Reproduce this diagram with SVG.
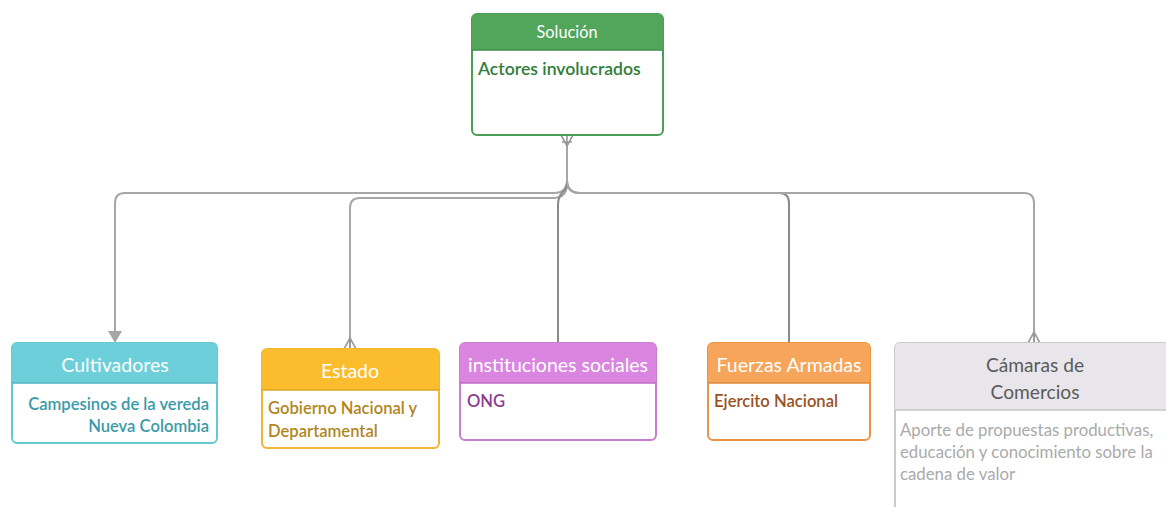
<svg xmlns="http://www.w3.org/2000/svg" width="1166" height="507" viewBox="0 0 1166 507">
<style>
text{font-family:Lato,"Noto Sans","Liberation Sans",sans-serif}
.hd{font-size:19.5px;fill:#fff;text-anchor:middle}
.bd{font-size:16.6px;font-weight:600}
.conn{fill:none;stroke:#a6a6a6;stroke-width:2}
.dk{stroke:#8a8a8a}
.cf{fill:none;stroke:#9a9a9a;stroke-width:1.6}
</style>
<rect width="1166" height="507" fill="#fff"/>
<g id="connectors">
<path class="conn" d="M567,145 V180 Q567,193 554,193 H125 Q115,193 115,203 V332"/>
<path d="M108,331 L122,331 L115,343 Z" fill="#a6a6a6"/>
<path class="conn" d="M567,145 V184 Q567,198 553,198 H360 Q350,198 350,208 V349"/>
<path class="conn dk" d="M567,145 V182 Q567,189 562,193 Q558,197 558,206 V343"/>
<path class="conn dk" d="M567,145 V180 Q567,193 580,193 H779 Q789,193 789,203 V343"/>
<path class="conn" d="M567,145 V180 Q567,193 580,193 H1024 Q1034,193 1034,203 V343"/>
<path class="cf" d="M561,135 L567,146 L573,135 M567,135 V146 M562,142 H572"/>
<path class="cf" d="M344,349 L350,338 L356,349 M350,338 V349"/>
<path class="cf" d="M1028,343 L1034,332 L1040,343 M1034,332 V343"/>
</g>
<g id="solucion">
<rect x="472" y="14" width="191" height="121" rx="5" fill="#fff" stroke="#4a9e55" stroke-width="2"/>
<path d="M472,50 V19 Q472,14 477,14 H658 Q663,14 663,19 V50 Z" fill="#52a65c"/>
<line x1="472" y1="50" x2="663" y2="50" stroke="#3f8e49" stroke-width="1.5"/>
<text class="hd" x="567" y="38" style="font-size:16.3px">Solución</text>
<text class="bd" x="478" y="75" fill="#2f7d3b" style="font-size:17.6px">Actores involucrados</text>
</g>
<g id="cultivadores">
<rect x="12" y="343" width="205" height="100" rx="5" fill="#fff" stroke="#66c8d3" stroke-width="2"/>
<path d="M12,383 V348 Q12,343 17,343 H212 Q217,343 217,348 V383 Z" fill="#6dcfd9"/>
<line x1="12" y1="383" x2="217" y2="383" stroke="#52b5c0" stroke-width="1.5"/>
<text class="hd" x="115" y="372">Cultivadores</text>
<text class="bd" x="209" y="410" fill="#3a9aa8" text-anchor="end">Campesinos de la vereda</text>
<text class="bd" x="209" y="432" fill="#3a9aa8" text-anchor="end">Nueva Colombia</text>
</g>
<g id="estado">
<rect x="262" y="349" width="177" height="99" rx="5" fill="#fff" stroke="#f2b535" stroke-width="2"/>
<path d="M262,390 V354 Q262,349 267,349 H434 Q439,349 439,354 V390 Z" fill="#fbbd2e"/>
<line x1="262" y1="390" x2="439" y2="390" stroke="#e0a420" stroke-width="1.5"/>
<text class="hd" x="350" y="378">Estado</text>
<text class="bd" x="268" y="414" fill="#b0861c">Gobierno Nacional y</text>
<text class="bd" x="268" y="437" fill="#b0861c">Departamental</text>
</g>
<g id="instituciones">
<rect x="460" y="343" width="196" height="97" rx="5" fill="#fff" stroke="#c97dcf" stroke-width="2"/>
<path d="M460,383 V348 Q460,343 465,343 H651 Q656,343 656,348 V383 Z" fill="#da86e1"/>
<line x1="460" y1="383" x2="656" y2="383" stroke="#bc6cc3" stroke-width="1.5"/>
<text class="hd" x="558" y="372">instituciones sociales</text>
<text class="bd" x="467" y="407" fill="#8a3d90">ONG</text>
</g>
<g id="fuerzas">
<rect x="708" y="343" width="162" height="97" rx="5" fill="#fff" stroke="#e79445" stroke-width="2"/>
<path d="M708,383 V348 Q708,343 713,343 H865 Q870,343 870,348 V383 Z" fill="#f6a55a"/>
<line x1="708" y1="383" x2="870" y2="383" stroke="#de8a3c" stroke-width="1.5"/>
<text class="hd" x="789" y="372">Fuerzas Armadas</text>
<text class="bd" x="714" y="407" fill="#9a5224">Ejercito Nacional</text>
</g>
<g id="camaras">
<rect x="895" y="343" width="290" height="190" rx="5" fill="#fff" stroke="#cbc9cd" stroke-width="2"/>
<path d="M895,410 V348 Q895,343 900,343 H1185 V410 Z" fill="#e8e6ea"/>
<line x1="895" y1="410" x2="1185" y2="410" stroke="#c6c4c8" stroke-width="1.5"/>
<text x="1035" y="372" style="font-size:19.2px;fill:#5a5a5a;text-anchor:middle">Cámaras de</text>
<text x="1035" y="399" style="font-size:19.2px;fill:#5a5a5a;text-anchor:middle">Comercios</text>
<text x="900" y="436" style="font-size:16.8px;fill:#aaaaaa">Aporte de propuestas productivas,</text>
<text x="900" y="458" style="font-size:16.8px;fill:#aaaaaa">educación y conocimiento sobre la</text>
<text x="900" y="480" style="font-size:16.8px;fill:#aaaaaa">cadena de valor</text>
</g>
</svg>
